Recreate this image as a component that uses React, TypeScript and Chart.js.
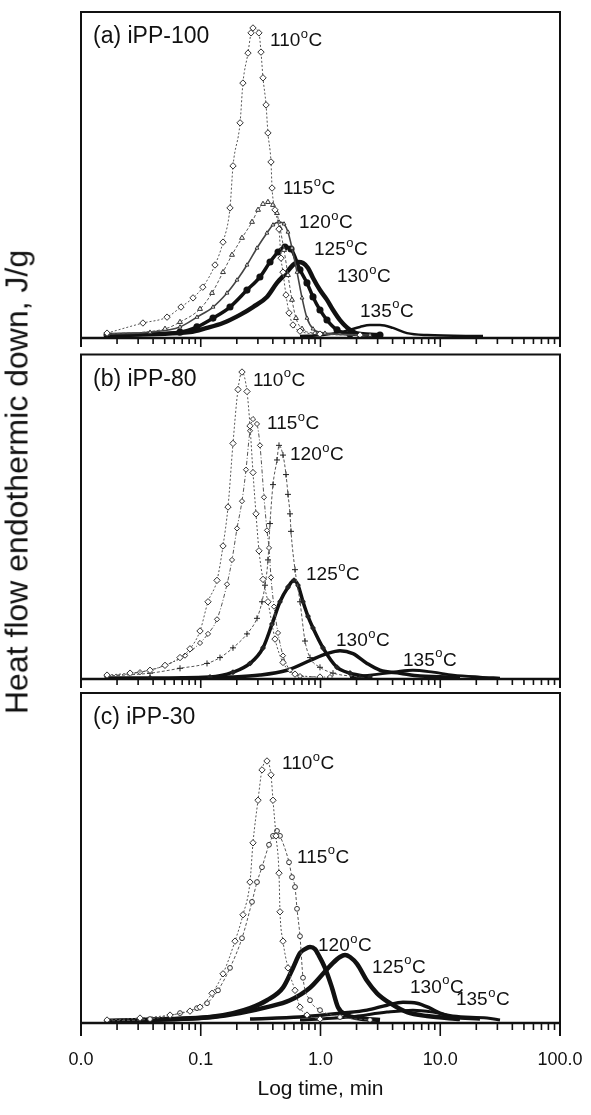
import React, { useEffect, useRef } from 'react';
import { Chart, registerables } from 'chart.js';

Chart.register(...registerables);

const FONT = '"Liberation Sans", Arial, Helvetica, sans-serif';

// ---------------- axis ticks ----------------
const xTickValues = [0.01, 0.1, 1, 10, 100];
const xTickLabels = ['0.0', '0.1', '1.0', '10.0', '100.0'];
const majorInnerTicks = [0.1, 1, 10];
const minorTickValues = [
  0.02, 0.03, 0.04, 0.05, 0.06, 0.07, 0.08, 0.09,
  0.2, 0.3, 0.4, 0.5, 0.6, 0.7, 0.8, 0.9,
  2, 3, 4, 5, 6, 7, 8, 9,
  20, 30, 40, 50, 60, 70, 80, 90,
];

const tempLabels = ['110', '115', '120', '125', '130', '135'];
const panelTitles = ['(a) iPP-100', '(b) iPP-80', '(c) iPP-30'];
const xTitle = 'Log time, min';
const yTitle = 'Heat flow endothermic down, J/g';

// ---------------- panel (a) iPP-100 ----------------
const a110Time = [0.0165, 0.0329, 0.0523, 0.0684, 0.0862, 0.104, 0.1315, 0.1534, 0.1755, 0.186, 0.213, 0.225, 0.248, 0.263, 0.273, 0.306, 0.3185, 0.331, 0.351, 0.364, 0.386, 0.394, 0.417, 0.450, 0.468, 0.486, 0.515, 0.546, 0.589, 0.674, 0.99, 2.14];
const a110Flow = [1.5, 4.6, 6.4, 9.5, 12.3, 15.6, 22.4, 29.4, 39.9, 52.8, 66.0, 78.2, 87.4, 93.6, 95.1, 93.6, 87.7, 79.8, 71.5, 62.9, 54.0, 46.0, 39.3, 33.4, 24.5, 20.2, 13.2, 7.7, 4.0, 2.1, 1.2, 0.9];
const a115Time = [0.0165, 0.0503, 0.0671, 0.0986, 0.1242, 0.1534, 0.1824, 0.221, 0.268, 0.301, 0.331, 0.364, 0.401, 0.433, 0.459, 0.496, 0.535, 0.578, 0.624, 0.701, 0.90, 2.14];
const a115Flow = [1.2, 2.8, 4.9, 8.9, 13.8, 20.2, 25.5, 30.7, 35.6, 39.3, 41.1, 41.7, 40.8, 38.3, 33.7, 27.0, 19.3, 11.7, 6.1, 2.8, 1.5, 0.9];
const a120Time = [0.0165, 0.0377, 0.0671, 0.093, 0.1266, 0.1657, 0.2008, 0.2433, 0.295, 0.357, 0.401, 0.450, 0.496, 0.535, 0.578, 0.637, 0.701, 0.771, 0.866, 1.09, 2.59];
const a120Flow = [1.2, 1.8, 3.4, 6.4, 9.5, 13.8, 17.8, 22.4, 27.6, 32.2, 34.7, 35.6, 35.0, 32.5, 27.6, 20.2, 12.3, 6.1, 2.8, 1.5, 0.9];
const a125Time = [0.0165, 0.0671, 0.093, 0.1266, 0.1755, 0.2433, 0.312, 0.379, 0.442, 0.505, 0.567, 0.674, 0.771, 0.866, 0.99, 1.133, 1.373, 1.763, 3.14];
const a125Flow = [0.9, 1.8, 3.4, 6.1, 9.5, 14.7, 18.7, 23.3, 26.4, 27.9, 27.3, 20.9, 16.9, 12.6, 8.6, 5.5, 2.5, 1.2, 0.9];
const a130Time = [0.0165, 0.0813, 0.1128, 0.1534, 0.2127, 0.273, 0.357, 0.433, 0.525, 0.589, 0.649, 0.714, 0.786, 0.866, 0.99, 1.133, 1.272, 1.455, 1.763, 2.137, 3.14];
const a130Flow = [0.9, 1.8, 3.1, 4.6, 7.1, 9.5, 12.6, 16.9, 20.2, 22.4, 23.3, 23.0, 21.5, 18.4, 14.7, 11.7, 8.6, 5.5, 2.5, 1.2, 0.9];
const a135Time = [0.674, 1.049, 1.602, 2.137, 2.591, 3.14, 4.031, 5.277, 7.752, 22.75];
const a135Flow = [0.6, 0.9, 2.1, 3.4, 4.0, 4.0, 3.1, 1.5, 0.9, 0.6];
const aLabelTime = [0.379, 0.486, 0.662, 0.883, 1.373, 2.137];
const aLabelFlow = [91.1, 45.7, 35.3, 27.0, 18.7, 8.0];

// ---------------- panel (b) iPP-80 ----------------
const b110Time = [0.0165, 0.0257, 0.0377, 0.0503, 0.0671, 0.0813, 0.0986, 0.115, 0.1367, 0.1534, 0.1689, 0.1859, 0.2047, 0.221, 0.2433, 0.2578, 0.2731, 0.2893, 0.3065, 0.331, 0.364, 0.417, 0.486, 0.6125, 0.99];
const b110Flow = [1.2, 1.8, 2.7, 4.2, 6.6, 9.3, 14.8, 23.8, 30.4, 41.0, 53.0, 72.6, 89.2, 94.6, 88.6, 78.0, 63.6, 50.9, 39.5, 30.7, 23.8, 12.3, 5.1, 1.5, 0.6];
const b115Time = [0.0165, 0.0311, 0.0503, 0.0739, 0.0986, 0.115, 0.1367, 0.1657, 0.1824, 0.2008, 0.221, 0.2387, 0.2578, 0.2731, 0.2949, 0.3124, 0.3374, 0.3574, 0.3715, 0.386, 0.409, 0.4417, 0.4862, 0.5564, 0.6743, 1.2];
const b115Flow = [0.9, 2.1, 4.2, 7.2, 11.1, 13.9, 18.4, 29.2, 36.7, 46.4, 54.8, 64.5, 76.5, 80.1, 78.6, 72.0, 56.0, 45.8, 40.4, 31.3, 22.3, 14.2, 7.2, 2.7, 0.9, 0.6];
const b120Time = [0.0165, 0.0377, 0.0671, 0.1128, 0.1448, 0.1859, 0.2433, 0.2949, 0.3247, 0.344, 0.3644, 0.3787, 0.4012, 0.4332, 0.4502, 0.4862, 0.5151, 0.5353, 0.5564, 0.5672, 0.6125, 0.6743, 0.7424, 0.8172, 0.9904, 1.272, 2.137];
const b120Flow = [0.9, 1.8, 3.3, 4.8, 6.6, 9.6, 13.9, 18.7, 23.8, 28.9, 36.7, 47.9, 59.9, 67.5, 72.0, 69.0, 63.0, 56.9, 50.9, 45.5, 33.7, 23.8, 11.7, 6.6, 3.6, 1.8, 0.6];
const b125Time = [0.0165, 0.0377, 0.1195, 0.1859, 0.2578, 0.331, 0.3936, 0.459, 0.5353, 0.6008, 0.6489, 0.7144, 0.7864, 0.8657, 1.049, 1.373, 1.763, 2.591];
const b125Flow = [0.3, 0.3, 0.6, 2.1, 4.8, 9.6, 16.9, 23.8, 28.3, 30.4, 28.9, 23.8, 19.3, 15.7, 9.6, 3.6, 1.8, 0.6];
const b130Time = [0.0671, 0.1755, 0.3124, 0.5251, 0.8172, 1.133, 1.455, 1.868, 2.445, 3.14, 4.613, 6.774, 14.62];
const b130Flow = [0.3, 0.6, 1.2, 2.7, 5.7, 7.8, 8.7, 7.8, 4.8, 2.7, 1.8, 0.9, 0.6];
const b135Time = [1.763, 3.592, 4.613, 5.921, 8.7, 12.78, 21.47, 31.55];
const b135Flow = [0.6, 1.8, 2.4, 2.7, 2.1, 1.2, 0.6, 0.3];
const bLabelTime = [0.2731, 0.3574, 0.5564, 0.7567, 1.347, 4.886];
const bLabelFlow = [91.9, 78.6, 69.0, 32.2, 11.7, 5.7];

// ---------------- panel (c) iPP-30 ----------------
const c110Time = [0.0165, 0.0311, 0.0554, 0.0813, 0.0986, 0.1242, 0.1534, 0.1932, 0.2253, 0.2578, 0.2731, 0.3007, 0.3247, 0.3574, 0.386, 0.4012, 0.425, 0.4502, 0.459, 0.4862, 0.5353, 0.6125, 0.6743, 0.7714, 0.9904];
const c110Flow = [0.9, 1.5, 2.4, 3.6, 4.8, 9.0, 14.9, 24.8, 32.8, 42.7, 54.6, 67.5, 76.7, 79.4, 75.2, 67.5, 56.7, 45.4, 33.7, 24.8, 16.7, 9.9, 4.8, 2.4, 1.2];
const c115Time = [0.0165, 0.0377, 0.0671, 0.093, 0.1128, 0.1393, 0.1755, 0.221, 0.2679, 0.2949, 0.3247, 0.3715, 0.4012, 0.4332, 0.459, 0.5458, 0.5781, 0.6125, 0.6366, 0.6743, 0.7144, 0.8172, 0.9904, 1.455, 2.591];
const c115Flow = [0.6, 1.2, 3.0, 4.5, 6.0, 9.9, 16.7, 25.7, 36.7, 42.7, 47.2, 54.0, 56.7, 58.2, 56.7, 48.7, 44.2, 41.2, 34.6, 26.3, 13.7, 6.9, 3.9, 1.8, 0.9];
const c120Time = [0.0165, 0.0554, 0.1195, 0.1859, 0.2578, 0.3574, 0.4862, 0.5894, 0.6743, 0.7424, 0.8172, 0.8995, 0.9531, 1.09, 1.247, 1.4, 1.664, 2.017, 3.14];
const c120Flow = [0.6, 1.2, 1.8, 3.0, 4.5, 6.9, 10.7, 16.7, 21.2, 22.4, 23.0, 22.4, 20.9, 16.7, 10.7, 4.8, 2.4, 1.5, 0.9];
const c125Time = [0.0165, 0.1266, 0.2127, 0.3574, 0.5564, 0.8172, 1.049, 1.272, 1.455, 1.602, 1.763, 2.017, 2.445, 2.964, 3.806, 5.277, 7.752, 14.62];
const c125Flow = [0.6, 1.8, 3.0, 4.8, 6.9, 10.7, 14.9, 18.2, 20.0, 20.6, 20.0, 17.9, 12.8, 9.0, 6.0, 3.3, 2.1, 1.2];
const c130Time = [0.2578, 0.6743, 1.541, 2.445, 3.592, 4.886, 6.394, 8.211, 9.952, 12.78, 21.47];
const c130Flow = [1.2, 1.8, 3.0, 3.9, 5.4, 6.3, 6.0, 4.5, 3.0, 1.8, 1.2];
const c135Time = [0.6743, 1.763, 3.592, 5.921, 8.7, 12.78, 24.57, 31.55];
const c135Flow = [0.9, 1.8, 3.3, 3.9, 3.3, 2.1, 1.5, 0.9];
const cLabelTime = [0.477, 0.6366, 0.9531, 2.692, 5.59, 13.53];
const cLabelFlow = [78.5, 50.1, 23.3, 16.7, 10.7, 6.9];

// ---------------- styles ----------------
const thinDot = (dash: number[], ps: string, r: number) => ({
  borderColor: '#555', borderWidth: 1, borderDash: dash,
  pointStyle: ps, pointRadius: r, pointBorderColor: '#333', pointBackgroundColor: '#fff', pointBorderWidth: 1,
});
const thick = (w: number) => ({ borderColor: '#111', borderWidth: w, pointRadius: 0 });

const panels = [
  {
    title: panelTitles[0],
    series: [[a110Time, a110Flow], [a115Time, a115Flow], [a120Time, a120Flow], [a125Time, a125Flow], [a130Time, a130Flow], [a135Time, a135Flow]],
    styles: [
      thinDot([2, 2], 'rectRot', 3.2),
      thinDot([3, 2], 'triangle', 2.8),
      { ...thinDot([], 'triangle', 2.2), borderColor: '#444', borderWidth: 1.6 },
      { borderColor: '#111', borderWidth: 3.5, pointStyle: 'circle', pointRadius: 1.8, pointBackgroundColor: '#111', pointBorderColor: '#111' },
      { borderColor: '#111', borderWidth: 4.5, pointRadius: 0 },
      thick(2.5),
    ],
    labelTime: aLabelTime, labelFlow: aLabelFlow,
  },
  {
    title: panelTitles[1],
    series: [[b110Time, b110Flow], [b115Time, b115Flow], [b120Time, b120Flow], [b125Time, b125Flow], [b130Time, b130Flow], [b135Time, b135Flow]],
    styles: [
      thinDot([2, 2], 'rectRot', 3.2),
      thinDot([4, 2, 1, 2], 'rectRot', 2.6),
      { ...thinDot([3, 2], 'cross', 3), pointBorderColor: '#222' },
      { borderColor: '#111', borderWidth: 3.5, pointStyle: 'crossRot', pointRadius: 2.2, pointBorderColor: '#222' },
      thick(3.5),
      thick(2.8),
    ],
    labelTime: bLabelTime, labelFlow: bLabelFlow,
  },
  {
    title: panelTitles[2],
    series: [[c110Time, c110Flow], [c115Time, c115Flow], [c120Time, c120Flow], [c125Time, c125Flow], [c130Time, c130Flow], [c135Time, c135Flow]],
    styles: [
      thinDot([2, 2], 'rectRot', 3.2),
      thinDot([3, 2], 'circle', 2.4),
      thick(4.5),
      thick(4.5),
      thick(3.5),
      thick(3),
    ],
    labelTime: cLabelTime, labelFlow: cLabelFlow,
  },
];

type Layout = { top: number; height: number; padTop: number; padBottom: number; minorLen: number; majorLen: number; bottomAxis: boolean };
const layouts: Layout[] = [
  { top: 0, height: 347, padTop: 12, padBottom: 9, minorLen: 6, majorLen: 9, bottomAxis: false },
  { top: 347, height: 341, padTop: 0, padBottom: 9, minorLen: 6, majorLen: 9, bottomAxis: false },
  { top: 688, height: 427, padTop: 0, padBottom: 0, minorLen: 7, majorLen: 13, bottomAxis: true },
];

function Panel({ index }: { index: number }) {
  const ref = useRef<HTMLCanvasElement>(null);
  const p = panels[index];
  const L = layouts[index];
  useEffect(() => {
    const canvas = ref.current;
    if (!canvas) return;
    const framePlugin = {
      id: 'panelFrame' + index,
      afterDatasetsDraw(chart: any) {
        const { ctx, chartArea } = chart;
        const { left, right, top, bottom } = chartArea;
        const xs = chart.scales.x;
        const ys = chart.scales.y;
        ctx.save();
        ctx.strokeStyle = '#111';
        ctx.lineWidth = 2;
        ctx.beginPath();
        ctx.moveTo(left, top); ctx.lineTo(right, top);
        ctx.moveTo(left, top - 1); ctx.lineTo(left, bottom + L.majorLen);
        ctx.moveTo(right, top - 1); ctx.lineTo(right, bottom + L.majorLen);
        ctx.stroke();
        ctx.lineWidth = 2.5;
        ctx.beginPath();
        ctx.moveTo(left, bottom); ctx.lineTo(right, bottom);
        ctx.stroke();
        ctx.lineWidth = 1.6;
        ctx.beginPath();
        minorTickValues.forEach((v) => {
          const px = xs.getPixelForValue(v);
          ctx.moveTo(px, bottom); ctx.lineTo(px, bottom + L.minorLen);
        });
        majorInnerTicks.forEach((v) => {
          const px = xs.getPixelForValue(v);
          ctx.moveTo(px, bottom); ctx.lineTo(px, bottom + L.majorLen);
        });
        ctx.stroke();

        // temperature labels
        ctx.fillStyle = '#111';
        ctx.textBaseline = 'middle';
        ctx.textAlign = 'left';
        p.labelTime.forEach((t: number, i: number) => {
          const px = xs.getPixelForValue(t);
          const py = ys.getPixelForValue(p.labelFlow[i]);
          ctx.font = '19px ' + FONT;
          const num = tempLabels[i];
          ctx.fillText(num, px, py);
          const w = ctx.measureText(num).width;
          ctx.font = '13px ' + FONT;
          ctx.fillText('o', px + w + 0.5, py - 7);
          const w2 = ctx.measureText('o').width;
          ctx.font = '19px ' + FONT;
          ctx.fillText('C', px + w + w2 + 1, py);
        });
        ctx.font = '23px ' + FONT;
        ctx.fillText(p.title, left + 12, top + 25);
        ctx.restore();
      },
    };

    const datasets = p.series.map((s: any, i: number) => ({
      label: tempLabels[i],
      data: s[0].map((t: number, k: number) => ({ x: t, y: s[1][k] })),
      fill: false,
      cubicInterpolationMode: 'monotone',
      ...p.styles[i],
    }));

    const chart = new Chart(canvas, {
      type: 'line',
      data: { datasets },
      options: {
        animation: false,
        responsive: false,
        devicePixelRatio: 1,
        events: [],
        layout: { padding: { left: 81, right: 31, top: L.padTop, bottom: L.padBottom } },
        plugins: { legend: { display: false }, tooltip: { enabled: false } },
        scales: {
          x: {
            type: 'logarithmic',
            min: 0.01,
            max: 100,
            display: L.bottomAxis,
            position: 'bottom',
            afterBuildTicks: (scale: any) => {
              scale.ticks = xTickValues.map((v) => ({ value: v, major: true }));
            },
            afterFit: (scale: any) => {
              if (L.bottomAxis) scale.height = 92;
              scale.paddingLeft = 0;
              scale.paddingRight = 0;
            },
            grid: { display: false, drawTicks: false },
            border: { display: false },
            ticks: {
              autoSkip: false,
              maxRotation: 0,
              padding: 26,
              color: '#111',
              font: { family: FONT, size: 18 },
              callback: (_v: any, idx: number) => xTickLabels[idx],
            },
            title: {
              display: true,
              text: xTitle,
              color: '#111',
              font: { family: FONT, size: 21 },
              padding: { top: 0, bottom: 13 },
            },
          },
          y: { type: 'linear', min: 0, max: 100, display: false },
        },
      } as any,
      plugins: [framePlugin],
    });
    return () => chart.destroy();
  }, []);
  return (
    <canvas
      ref={ref}
      width={591}
      height={L.height}
      style={{ position: 'absolute', left: 0, top: L.top, width: 591, height: L.height, display: 'block' }}
    />
  );
}

export default function App() {
  return (
    <div style={{ position: 'absolute', left: 0, top: 0, width: 591, height: 1115, background: '#fff', overflow: 'hidden' }}>
      <Panel index={0} />
      <Panel index={1} />
      <Panel index={2} />
      <div
        style={{
          position: 'absolute', left: 17, top: 482,
          transform: 'translate(-50%, -50%) rotate(-90deg)',
          whiteSpace: 'nowrap', fontFamily: FONT, fontSize: 32, color: '#111',
        }}
      >
        {yTitle}
      </div>
    </div>
  );
}
